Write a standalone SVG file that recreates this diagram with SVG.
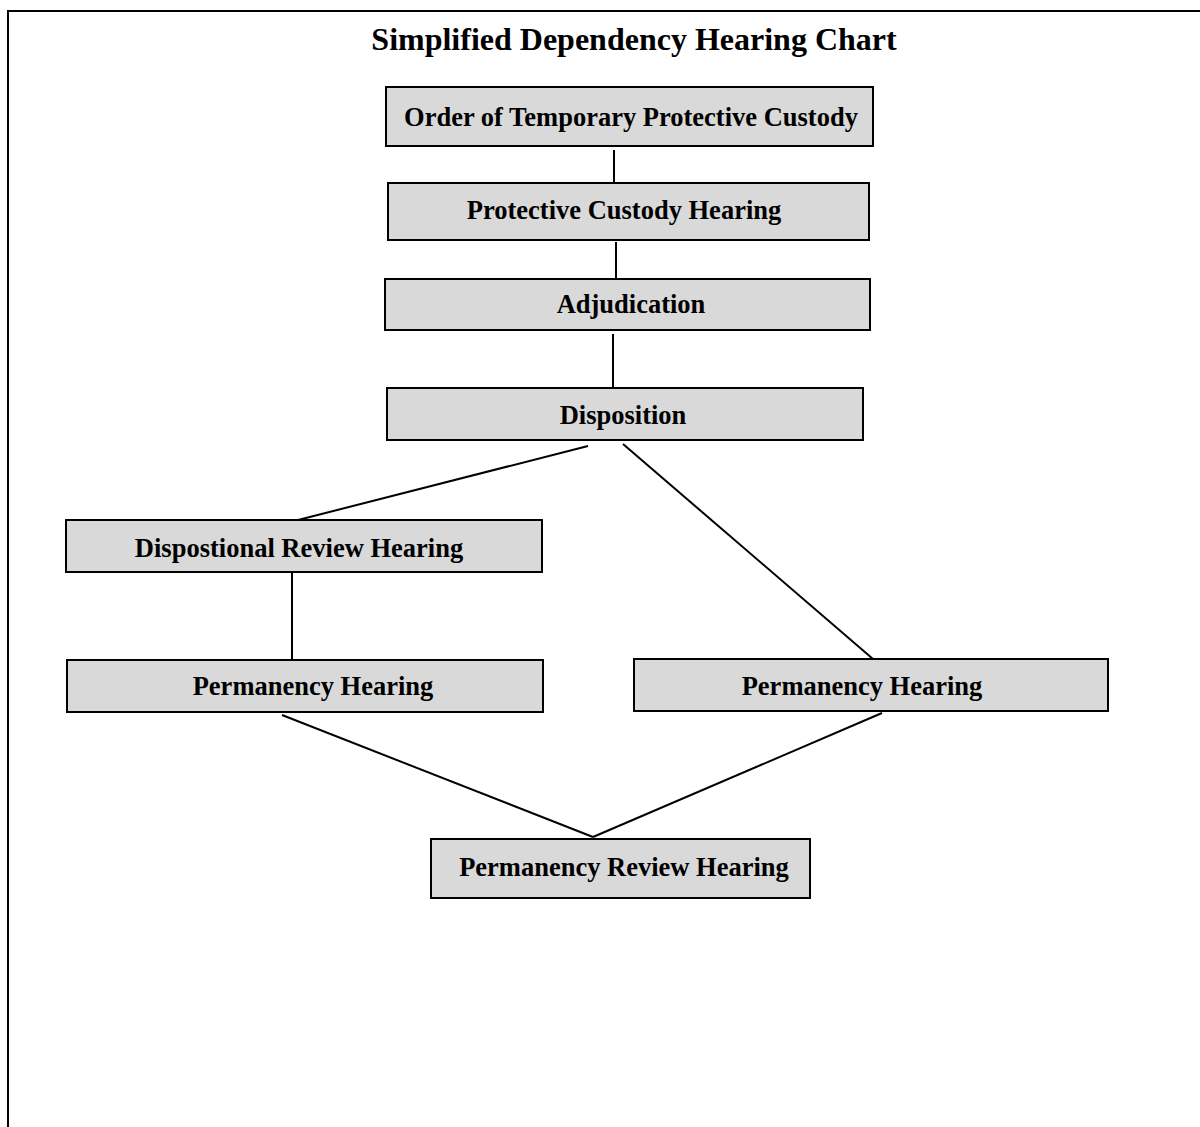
<svg xmlns="http://www.w3.org/2000/svg" width="1200" height="1127" viewBox="0 0 1200 1127">
<style>
.box{fill:#d9d9d9;stroke:#000;stroke-width:2}
.lbl{font-family:"Liberation Serif","Times New Roman",serif;font-weight:bold;font-size:26.5px;text-anchor:middle;fill:#000}
.title{font-family:"Liberation Serif","Times New Roman",serif;font-weight:bold;font-size:32px;text-anchor:middle;fill:#000}
.conn line{stroke:#000;stroke-width:2}
</style>
<rect width="1200" height="1127" fill="#fff"/>
<path d="M8,1127 V11 H1200" fill="none" stroke="#000" stroke-width="2"/>
<text class="title" x="634" y="50">Simplified Dependency Hearing Chart</text>
<g class="conn">
<line x1="614" y1="150" x2="614" y2="182"/>
<line x1="616" y1="242" x2="616" y2="278"/>
<line x1="613" y1="334" x2="613" y2="388"/>
<line x1="588" y1="446" x2="298" y2="520"/>
<line x1="623" y1="444" x2="873" y2="659"/>
<line x1="292" y1="573" x2="292" y2="661"/>
<line x1="282" y1="715" x2="593" y2="837"/>
<line x1="882" y1="713" x2="593" y2="837"/>
</g>
<g id="n1"><rect class="box" x="386" y="87" width="487" height="59"/><text class="lbl" x="631" y="126">Order of Temporary Protective Custody</text></g>
<g id="n2"><rect class="box" x="388" y="183" width="481" height="57"/><text class="lbl" x="624" y="219">Protective Custody Hearing</text></g>
<g id="n3"><rect class="box" x="385" y="279" width="485" height="51"/><text class="lbl" x="631" y="313">Adjudication</text></g>
<g id="n4"><rect class="box" x="387" y="388" width="476" height="52"/><text class="lbl" x="623" y="424">Disposition</text></g>
<g id="n5"><rect class="box" x="66" y="520" width="476" height="52"/><text class="lbl" x="299" y="557">Dispostional Review Hearing</text></g>
<g id="n6"><rect class="box" x="67" y="660" width="476" height="52"/><text class="lbl" x="313" y="695">Permanency Hearing</text></g>
<g id="n7"><rect class="box" x="634" y="659" width="474" height="52"/><text class="lbl" x="862" y="695">Permanency Hearing</text></g>
<g id="n8"><rect class="box" x="431" y="839" width="379" height="59"/><text class="lbl" x="624" y="876">Permanency Review Hearing</text></g>
</svg>
